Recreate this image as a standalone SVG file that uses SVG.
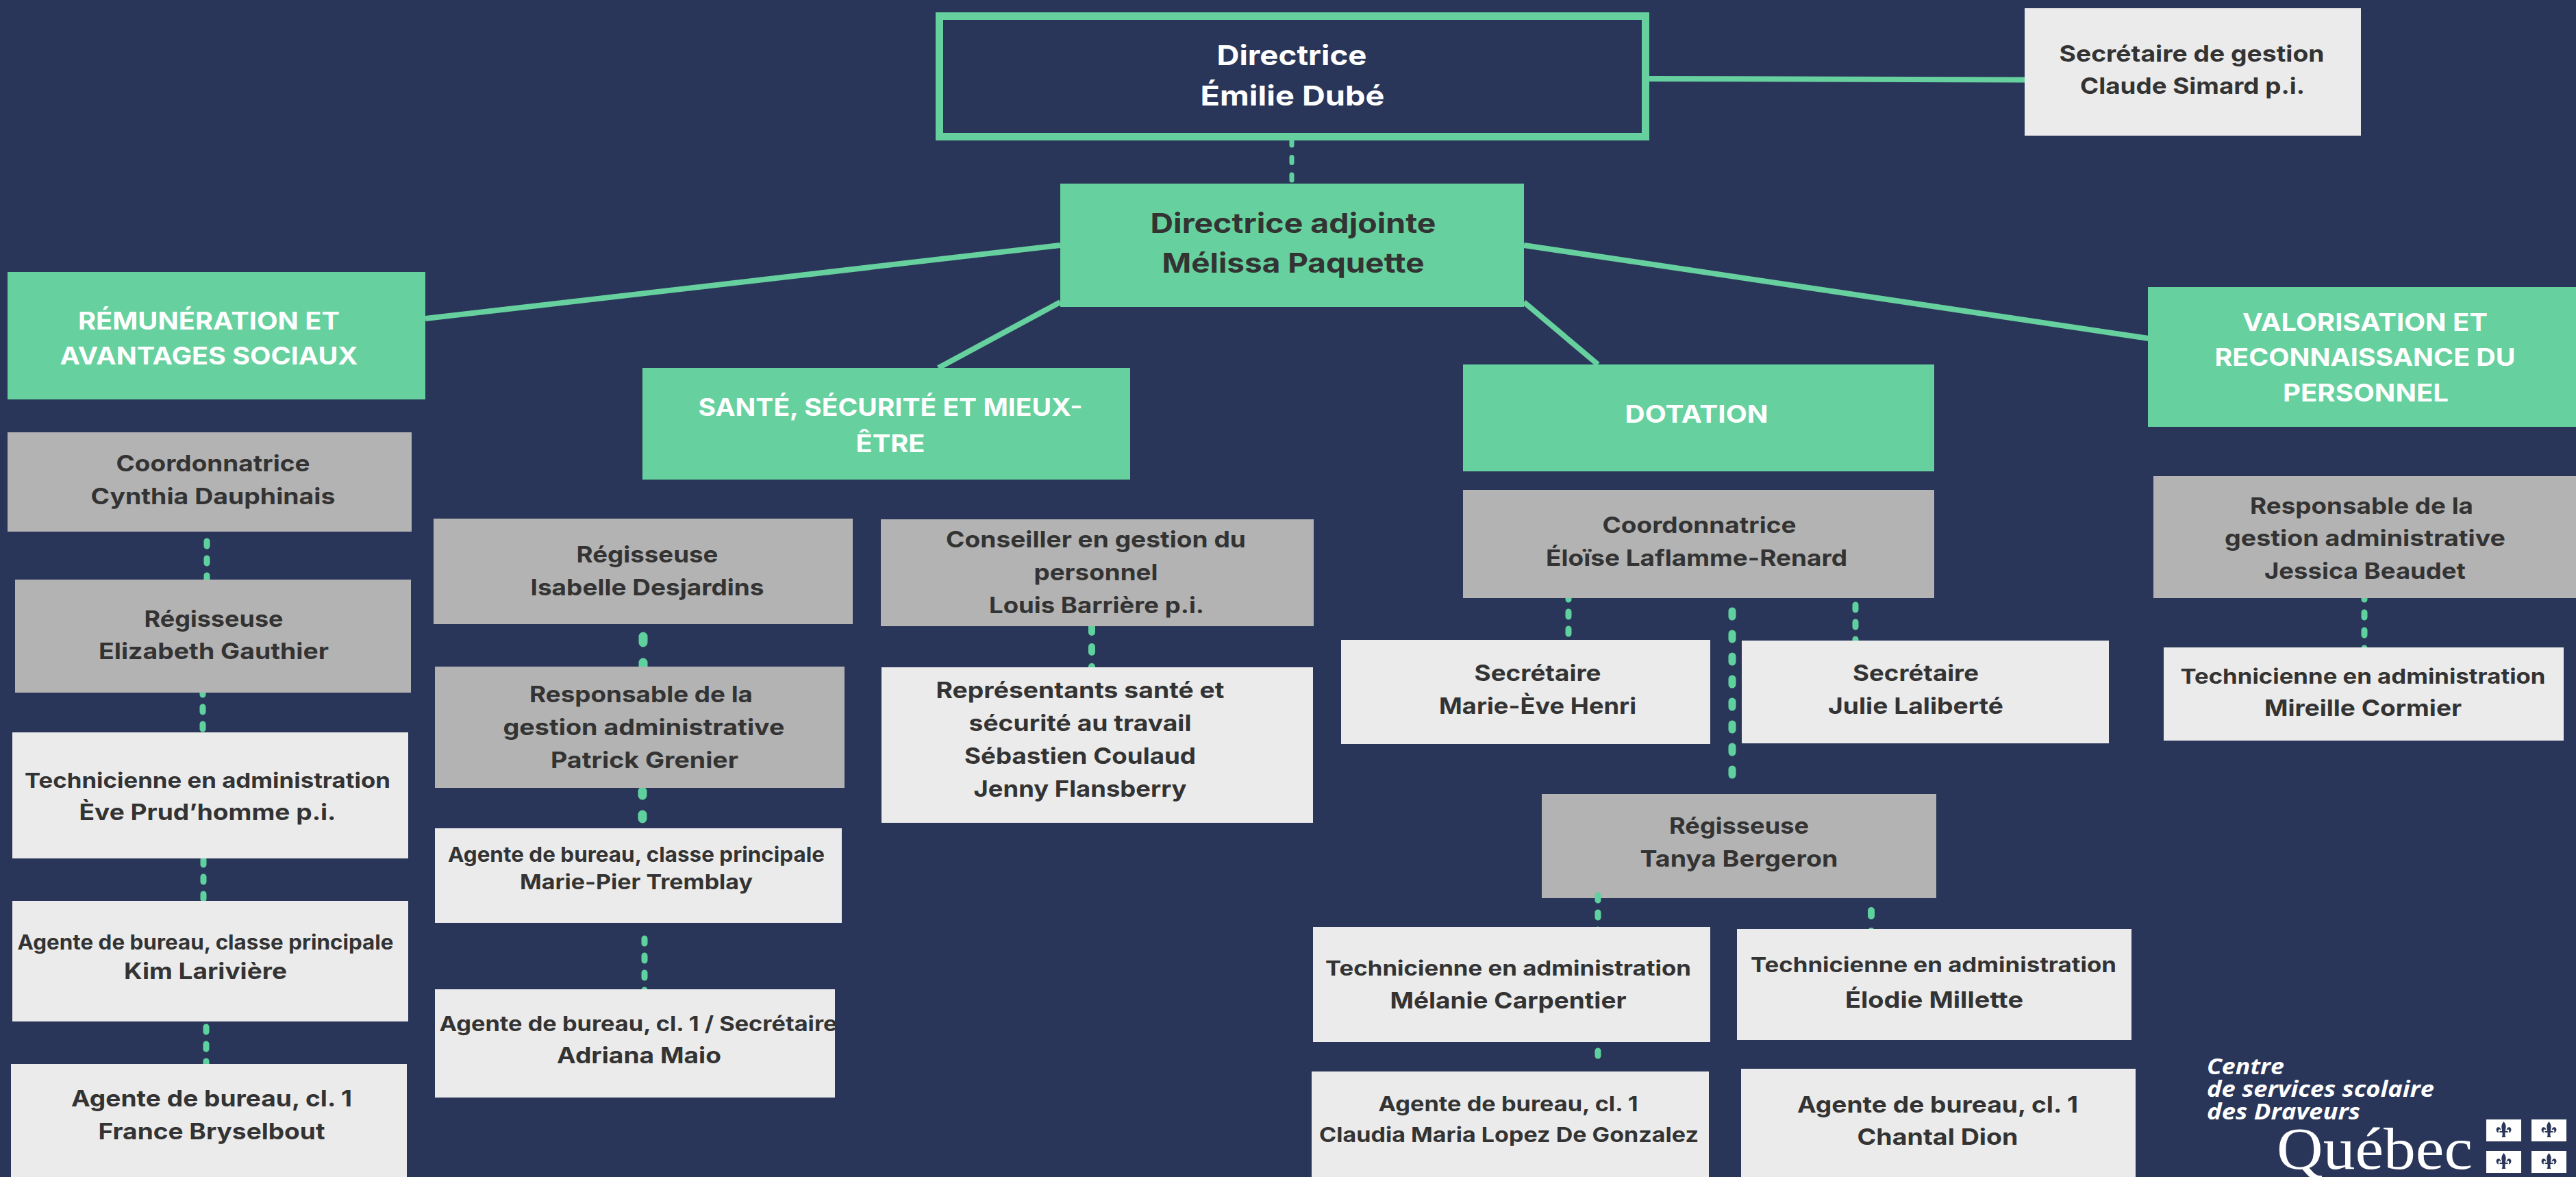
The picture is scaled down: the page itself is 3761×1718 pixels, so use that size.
<svg xmlns="http://www.w3.org/2000/svg" xmlns:xlink="http://www.w3.org/1999/xlink" width="3761" height="1718" viewBox="0 0 3761 1718">
<style>
text{font-family:"Inter","Noto Sans","Liberation Sans",sans-serif;font-weight:700;text-anchor:middle}
.g{fill:#66d19e}.m{fill:#b3b3b3}.l{fill:#ebebeb}
.d{fill:#333333}.w{fill:#ffffff}
.s42{font-size:40px}.s37{font-size:35px}.s34{font-size:33px}.s30{font-size:30px}
.sol{stroke:#66d19e;fill:none;stroke-width:8}
.da{stroke:#5fd19e;fill:none;stroke-linecap:round;stroke-width:9;stroke-dasharray:7 18}
.lg{font-family:"Open Sans","Liberation Sans",sans-serif;font-weight:700;font-style:italic;font-size:32px;text-anchor:start;fill:#fff}
</style>
<defs>
<g id="fleur"><path fill="#2a3659" d="M0,-13 C3,-9 4,-6 2.5,-1.5 L2.5,1 L6,1 L6,3 L2,3 C2,6 1.5,8 3,10 L-3,10 C-1.500,8 -2,6 -2,3 L-6,3 L-6,1 L-2.500,1 L-2.500,-1.500 C-4,-6 -3,-9 0,-13 Z M4,0 C4,-5 9,-6 10.500,-3 C12,0 9.500,3.500 7,3.500 C8,2 8.500,-1 6.500,-1.500 C5.500,-1.700 5,-1 4,0 Z M-4,0 C-4,-5 -9,-6 -10.500,-3 C-12,0 -9.500,3.500 -7,3.500 C-8,2 -8.500,-1 -6.500,-1.500 C-5.500,-1.700 -5,-1 -4,0 Z"/></g>
</defs>
<rect width="3761" height="1718" fill="#2a3659"/>

<g id="n-tanya"><rect class="m" x="2251" y="1159" width="576" height="152"/>
<text class="d s34" x="2539" y="1217" textLength="204" lengthAdjust="spacingAndGlyphs">Régisseuse</text>
<text class="d s34" x="2539" y="1265" textLength="289" lengthAdjust="spacingAndGlyphs">Tanya Bergeron</text></g>

<g id="connectors">
<path class="sol" d="M2408,115 L2956,116.500"/>
<path class="sol" d="M1548,358 L621,465"/>
<path class="sol" d="M2225,358 L3137,494"/>
<path class="sol" d="M1548,441 L1370,537"/>
<path class="sol" d="M2225,441 L2333,532"/>
<path class="da" style="stroke-width:7;stroke-dasharray:8 17.500" d="M1886,204 V266"/>
<path class="da" d="M302,790 V850"/>
<path class="da" d="M296,1007 V1069"/>
<path class="da" d="M297,1255 V1318"/>
<path class="da" d="M301,1499 V1556"/>
<path class="da" style="stroke-width:13;stroke-dasharray:9 29" d="M939,929 V980"/>
<path class="da" style="stroke-width:13;stroke-dasharray:6 28" d="M938,1155 V1203"/>
<path class="da" d="M941,1370 V1450"/>
<path class="da" style="stroke-width:10;stroke-dasharray:8 21" d="M1594,915 V980"/>
<path class="da" d="M2290,868 V938"/>
<path class="da" style="stroke-width:11;stroke-dasharray:8 25" d="M2529,892 V1154"/>
<path class="da" d="M2709,883 V940"/>
<path class="da" d="M2333,1307 V1360"/>
<path class="da" style="stroke-width:10;stroke-dasharray:8 22" d="M2732,1329 V1362"/>
<path class="da" style="stroke-dasharray:7 40" d="M2333,1534 V1541"/>
<path class="da" style="stroke-dasharray:7 19" d="M3452,868 V950"/>
</g>

<g id="n-directrice"><rect x="1371.500" y="23.500" width="1031" height="176" fill="#2a3659" stroke="#66d19e" stroke-width="11"/>
<text class="w s42" x="1886" y="95" textLength="219" lengthAdjust="spacingAndGlyphs">Directrice</text>
<text class="w s42" x="1887" y="154" textLength="269" lengthAdjust="spacingAndGlyphs">Émilie Dubé</text></g>

<g id="n-secretaire-gestion"><rect class="l" x="2956" y="12" width="491" height="186"/>
<text class="d s34" x="3200" y="90" textLength="387" lengthAdjust="spacingAndGlyphs">Secrétaire de gestion</text>
<text class="d s34" x="3201" y="137" textLength="328" lengthAdjust="spacingAndGlyphs">Claude Simard p.i.</text></g>

<g id="n-adjointe"><rect class="g" x="1548" y="268" width="677" height="180"/>
<text class="d s42" x="1888" y="340" textLength="417" lengthAdjust="spacingAndGlyphs">Directrice adjointe</text>
<text class="d s42" x="1888" y="398" textLength="383" lengthAdjust="spacingAndGlyphs">Mélissa Paquette</text></g>

<g id="n-remuneration"><rect class="g" x="11" y="397" width="610" height="186"/>
<text class="w s37" x="305" y="481" textLength="382" lengthAdjust="spacingAndGlyphs">RÉMUNÉRATION ET</text>
<text class="w s37" x="305" y="532" textLength="435" lengthAdjust="spacingAndGlyphs">AVANTAGES SOCIAUX</text></g>

<g id="n-sante"><rect class="g" x="938" y="537" width="712" height="163"/>
<text class="w s37" x="1300" y="607" textLength="561" lengthAdjust="spacingAndGlyphs">SANTÉ, SÉCURITÉ ET MIEUX-</text>
<text class="w s37" x="1300" y="660" textLength="101" lengthAdjust="spacingAndGlyphs">ÊTRE</text></g>

<g id="n-dotation"><rect class="g" x="2136" y="532" width="688" height="156"/>
<text class="w s37" x="2477" y="617" textLength="209" lengthAdjust="spacingAndGlyphs">DOTATION</text></g>

<g id="n-valorisation"><rect class="g" x="3136" y="419" width="625" height="204"/>
<text class="w s37" x="3453" y="483" textLength="358" lengthAdjust="spacingAndGlyphs">VALORISATION ET</text>
<text class="w s37" x="3453" y="534" textLength="439" lengthAdjust="spacingAndGlyphs">RECONNAISSANCE DU</text>
<text class="w s37" x="3454" y="586" textLength="242" lengthAdjust="spacingAndGlyphs">PERSONNEL</text></g>

<g id="n-cynthia"><rect class="m" x="11" y="631" width="590" height="145"/>
<text class="d s34" x="311" y="688" textLength="283" lengthAdjust="spacingAndGlyphs">Coordonnatrice</text>
<text class="d s34" x="311" y="736" textLength="357" lengthAdjust="spacingAndGlyphs">Cynthia Dauphinais</text></g>

<g id="n-elizabeth"><rect class="m" x="22" y="846" width="578" height="165"/>
<text class="d s34" x="312" y="915" textLength="203" lengthAdjust="spacingAndGlyphs">Régisseuse</text>
<text class="d s34" x="312" y="962" textLength="336" lengthAdjust="spacingAndGlyphs">Elizabeth Gauthier</text></g>

<g id="n-eve"><rect class="l" x="18" y="1069" width="578" height="184"/>
<text class="d s30" x="303" y="1150" textLength="534" lengthAdjust="spacingAndGlyphs">Technicienne en administration</text>
<text class="d s34" x="303" y="1197" textLength="375" lengthAdjust="spacingAndGlyphs">Ève Prud’homme p.i.</text></g>

<g id="n-kim"><rect class="l" x="18" y="1315" width="578" height="176"/>
<text class="d s30" x="300" y="1386" textLength="549" lengthAdjust="spacingAndGlyphs">Agente de bureau, classe principale</text>
<text class="d s34" x="300" y="1429" textLength="238" lengthAdjust="spacingAndGlyphs">Kim Larivière</text></g>

<g id="n-france"><rect class="l" x="16" y="1553" width="578" height="165"/>
<text class="d s34" x="309" y="1615" textLength="410" lengthAdjust="spacingAndGlyphs">Agente de bureau, cl. 1</text>
<text class="d s34" x="309" y="1663" textLength="331" lengthAdjust="spacingAndGlyphs">France Bryselbout</text></g>

<g id="n-isabelle"><rect class="m" x="633" y="757" width="612" height="154"/>
<text class="d s34" x="945" y="821" textLength="207" lengthAdjust="spacingAndGlyphs">Régisseuse</text>
<text class="d s34" x="945" y="869" textLength="341" lengthAdjust="spacingAndGlyphs">Isabelle Desjardins</text></g>

<g id="n-patrick"><rect class="m" x="635" y="973" width="598" height="177"/>
<text class="d s34" x="936" y="1025" textLength="326" lengthAdjust="spacingAndGlyphs">Responsable de la</text>
<text class="d s34" x="940" y="1073" textLength="411" lengthAdjust="spacingAndGlyphs">gestion administrative</text>
<text class="d s34" x="941" y="1121" textLength="274" lengthAdjust="spacingAndGlyphs">Patrick Grenier</text></g>

<g id="n-marie-pier"><rect class="l" x="635" y="1209" width="594" height="138"/>
<text class="d s30" x="929" y="1258" textLength="550" lengthAdjust="spacingAndGlyphs">Agente de bureau, classe principale</text>
<text class="d s30" x="929" y="1298" textLength="340" lengthAdjust="spacingAndGlyphs">Marie-Pier Tremblay</text></g>

<g id="n-adriana"><rect class="l" x="635" y="1444" width="584" height="158"/>
<text class="d s30" x="932" y="1505" textLength="581" lengthAdjust="spacingAndGlyphs">Agente de bureau, cl. 1 / Secrétaire</text>
<text class="d s34" x="933" y="1552" textLength="240" lengthAdjust="spacingAndGlyphs">Adriana Maio</text></g>

<g id="n-louis"><rect class="m" x="1286" y="758" width="632" height="156"/>
<text class="d s34" x="1600" y="799" textLength="438" lengthAdjust="spacingAndGlyphs">Conseiller en gestion du</text>
<text class="d s34" x="1600" y="847" textLength="181" lengthAdjust="spacingAndGlyphs">personnel</text>
<text class="d s34" x="1601" y="895" textLength="314" lengthAdjust="spacingAndGlyphs">Louis Barrière p.i.</text></g>

<g id="n-representants"><rect class="l" x="1287" y="974" width="630" height="227"/>
<text class="d s34" x="1577" y="1019" textLength="421" lengthAdjust="spacingAndGlyphs">Représentants santé et</text>
<text class="d s34" x="1577" y="1067" textLength="325" lengthAdjust="spacingAndGlyphs">sécurité au travail</text>
<text class="d s34" x="1577" y="1115" textLength="338" lengthAdjust="spacingAndGlyphs">Sébastien Coulaud</text>
<text class="d s34" x="1577" y="1163" textLength="311" lengthAdjust="spacingAndGlyphs">Jenny Flansberry</text></g>

<g id="n-eloise"><rect class="m" x="2136" y="715" width="688" height="158"/>
<text class="d s34" x="2481" y="778" textLength="283" lengthAdjust="spacingAndGlyphs">Coordonnatrice</text>
<text class="d s34" x="2477" y="826" textLength="440" lengthAdjust="spacingAndGlyphs">Éloïse Laflamme-Renard</text></g>

<g id="n-marie-eve"><rect class="l" x="1958" y="934" width="539" height="152"/>
<text class="d s34" x="2245" y="994" textLength="185" lengthAdjust="spacingAndGlyphs">Secrétaire</text>
<text class="d s34" x="2245" y="1042" textLength="288" lengthAdjust="spacingAndGlyphs">Marie-Ève Henri</text></g>

<g id="n-julie"><rect class="l" x="2543" y="935" width="536" height="150"/>
<text class="d s34" x="2797" y="994" textLength="184" lengthAdjust="spacingAndGlyphs">Secrétaire</text>
<text class="d s34" x="2797" y="1042" textLength="256" lengthAdjust="spacingAndGlyphs">Julie Laliberté</text></g>

<g id="n-melanie"><rect class="l" x="1917" y="1353" width="580" height="168"/>
<text class="d s30" x="2202" y="1424" textLength="534" lengthAdjust="spacingAndGlyphs">Technicienne en administration</text>
<text class="d s34" x="2202" y="1472" textLength="345" lengthAdjust="spacingAndGlyphs">Mélanie Carpentier</text></g>

<g id="n-elodie"><rect class="l" x="2536" y="1356" width="576" height="162"/>
<text class="d s30" x="2823" y="1419" textLength="534" lengthAdjust="spacingAndGlyphs">Technicienne en administration</text>
<text class="d s34" x="2824" y="1471" textLength="260" lengthAdjust="spacingAndGlyphs">Élodie Millette</text></g>

<g id="n-claudia"><rect class="l" x="1915" y="1564" width="580" height="154"/>
<text class="d s30" x="2202" y="1622" textLength="379" lengthAdjust="spacingAndGlyphs">Agente de bureau, cl. 1</text>
<text class="d s30" x="2203" y="1667" textLength="554" lengthAdjust="spacingAndGlyphs">Claudia Maria Lopez De Gonzalez</text></g>

<g id="n-chantal"><rect class="l" x="2542" y="1560" width="576" height="158"/>
<text class="d s34" x="2829" y="1624" textLength="410" lengthAdjust="spacingAndGlyphs">Agente de bureau, cl. 1</text>
<text class="d s34" x="2829" y="1671" textLength="235" lengthAdjust="spacingAndGlyphs">Chantal Dion</text></g>

<g id="n-jessica"><rect class="m" x="3144" y="695" width="617" height="178"/>
<text class="d s34" x="3448" y="750" textLength="326" lengthAdjust="spacingAndGlyphs">Responsable de la</text>
<text class="d s34" x="3453" y="797" textLength="410" lengthAdjust="spacingAndGlyphs">gestion administrative</text>
<text class="d s34" x="3453" y="845" textLength="294" lengthAdjust="spacingAndGlyphs">Jessica Beaudet</text></g>

<g id="n-mireille"><rect class="l" x="3159" y="945" width="584" height="136"/>
<text class="d s30" x="3450" y="998" textLength="533" lengthAdjust="spacingAndGlyphs">Technicienne en administration</text>
<text class="d s34" x="3450" y="1045" textLength="288" lengthAdjust="spacingAndGlyphs">Mireille Cormier</text></g>

<g id="logo">
<text class="lg" x="3222" y="1568" textLength="113" lengthAdjust="spacingAndGlyphs">Centre</text>
<text class="lg" x="3222" y="1601" textLength="332" lengthAdjust="spacingAndGlyphs">de services scolaire</text>
<text class="lg" x="3222" y="1634" textLength="224" lengthAdjust="spacingAndGlyphs">des Draveurs</text>
<text x="3324" y="1706" textLength="286" lengthAdjust="spacingAndGlyphs" style="font-family:'Liberation Serif',serif;font-weight:400;font-size:86px;text-anchor:start;fill:#fff">Québec</text>
<rect x="3630" y="1634" width="51" height="32" fill="#fff"/>
<rect x="3696" y="1634" width="51" height="32" fill="#fff"/>
<rect x="3630" y="1680" width="51" height="32" fill="#fff"/>
<rect x="3696" y="1680" width="51" height="32" fill="#fff"/>
<use xlink:href="#fleur" href="#fleur" x="3655.500" y="1650"/>
<use xlink:href="#fleur" href="#fleur" x="3721.500" y="1650"/>
<use xlink:href="#fleur" href="#fleur" x="3655.500" y="1696"/>
<use xlink:href="#fleur" href="#fleur" x="3721.500" y="1696"/>
</g>
</svg>
